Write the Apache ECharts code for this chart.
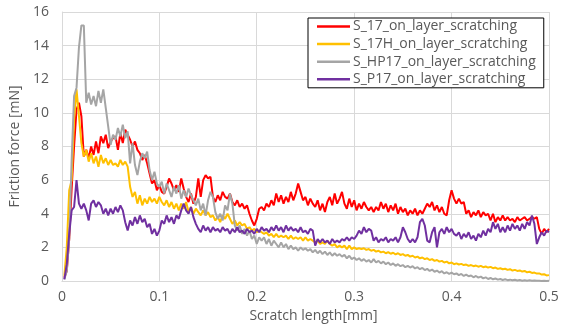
<!DOCTYPE html>
<html>
<head>
<meta charset="utf-8">
<script src="https://cdn.jsdelivr.net/npm/echarts@6/dist/echarts.min.js"></script>
<style>html,body{margin:0;padding:0;background:#fff;}#c{width:568px;height:329px;}</style>
</head>
<body>
<div id="c"></div>
<script>
const seriesNames = ['S_17_on_layer_scratching','S_17H_on_layer_scratching','S_HP17_on_layer_scratching','S_P17_on_layer_scratching'];
const xTicks = [0, 0.1, 0.2, 0.3, 0.4, 0.5];
const yTicks = [0, 2, 4, 6, 8, 10, 12, 14, 16];

const xs = [
0.0025,0.005,0.0075,0.01,0.0125,0.015,0.0175,0.02,0.0225,0.025,0.0275,0.03,0.0325,0.035,0.0375,0.04,0.0425,0.045,0.0475,0.05,0.0525,
0.055,0.0575,0.06,0.0625,0.065,0.0675,0.07,0.0725,0.075,0.0775,0.08,0.0825,0.085,0.0875,0.09,0.0925,0.095,0.0975,0.1,0.1025,
0.105,0.1075,0.11,0.1125,0.115,0.1175,0.12,0.1225,0.125,0.1275,0.13,0.1325,0.135,0.1375,0.14,0.1425,0.145,0.1475,0.15,0.1525,
0.155,0.1575,0.16,0.1625,0.165,0.1675,0.17,0.1725,0.175,0.1775,0.18,0.1825,0.185,0.1875,0.19,0.1925,0.195,0.1975,0.2,0.2025,
0.205,0.2075,0.21,0.2125,0.215,0.2175,0.22,0.2225,0.225,0.2275,0.23,0.2325,0.235,0.2375,0.24,0.2425,0.245,0.2475,0.25,0.2525,
0.255,0.2575,0.26,0.2625,0.265,0.2675,0.27,0.2725,0.275,0.2775,0.28,0.2825,0.285,0.2875,0.29,0.2925,0.295,0.2975,0.3,0.3025,
0.305,0.3075,0.31,0.3125,0.315,0.3175,0.32,0.3225,0.325,0.3275,0.33,0.3325,0.335,0.3375,0.34,0.3425,0.345,0.3475,0.35,0.3525,
0.355,0.3575,0.36,0.3625,0.365,0.3675,0.37,0.3725,0.375,0.3775,0.38,0.3825,0.385,0.3875,0.39,0.3925,0.395,0.3975,0.4,0.4025,
0.405,0.4075,0.41,0.4125,0.415,0.4175,0.42,0.4225,0.425,0.4275,0.43,0.4325,0.435,0.4375,0.44,0.4425,0.445,0.4475,0.45,0.4525,
0.455,0.4575,0.46,0.4625,0.465,0.4675,0.47,0.4725,0.475,0.4775,0.48,0.4825,0.485,0.4875,0.49,0.4925,0.495,0.4975,0.5
];

const s17 = [
0.2,0.6,2.5,5.5,8.0,10.2,10.6,9.8,7.4,7.8,7.3,8.0,7.5,8.3,7.6,8.6,8.2,8.7,7.9,8.3,8.5,
8.6,7.8,8.8,8.2,9.0,8.7,8.4,8.0,8.3,7.8,7.6,7.2,7.5,7.0,6.4,5.8,6.0,5.4,5.7,5.3,
5.2,5.6,6.1,5.8,5.4,5.7,5.3,6.1,5.5,5.0,4.7,5.2,4.6,5.0,6.1,5.0,6.0,6.3,6.1,6.2,
5.0,4.7,5.1,4.8,5.3,5.0,4.9,5.2,4.7,4.5,4.8,4.4,4.6,4.3,4.5,4.0,3.6,3.3,3.7,4.3,
4.4,4.2,4.6,4.4,4.8,4.5,5.2,4.7,5.1,4.6,5.0,4.7,5.3,4.8,5.2,5.8,5.3,4.8,5.0,4.5,
4.9,4.6,4.4,4.8,4.2,4.6,4.1,4.7,5.0,4.5,5.2,4.6,4.9,5.3,4.6,4.3,4.9,4.4,4.8,4.2,
4.6,4.3,4.7,4.4,4.2,4.4,4.1,4.4,4.2,4.7,4.3,4.6,4.1,4.5,4.2,4.6,4.0,4.4,4.1,4.3,
3.9,4.2,4.0,4.3,3.9,4.2,4.0,4.3,4.6,4.4,4.7,4.2,4.5,4.1,4.4,4.0,3.9,4.8,5.4,4.9,
4.6,4.9,4.6,4.7,4.0,4.2,3.8,4.1,3.9,4.2,3.8,4.1,3.9,4.0,3.6,4.0,3.5,3.8,3.6,3.9,
3.6,3.8,3.6,3.7,3.5,3.8,3.6,3.7,3.8,3.6,3.7,3.8,3.7,3.8,3.1,2.8,3.1,2.9,3.1
];

const s17H = [
0.3,2.0,5.4,6.0,9.6,11.4,9.8,8.2,7.4,7.8,7.1,7.6,7.0,7.4,6.8,7.5,7.0,7.3,6.9,7.2,6.9,
7.0,6.8,7.2,6.9,7.1,6.8,5.6,5.0,5.3,4.6,5.1,4.5,4.9,4.6,5.0,4.7,4.9,4.6,5.0,4.7,
4.5,4.8,4.4,4.7,4.3,4.6,4.2,4.6,4.3,4.7,4.1,4.4,4.0,4.3,4.1,3.9,4.2,3.9,4.1,3.8,
3.9,3.6,3.8,3.5,3.9,3.7,4.0,3.7,3.4,3.6,3.3,3.5,3.3,3.4,3.1,3.2,3.0,3.1,2.9,3.0,
2.9,2.8,2.9,2.7,2.8,2.6,2.8,2.6,2.7,2.6,2.7,2.5,2.7,2.5,2.6,2.5,2.6,2.4,2.6,2.4,
2.5,2.4,2.3,2.4,2.2,2.3,2.2,2.4,2.2,2.1,2.2,2.0,2.1,2.0,2.1,1.9,2.1,1.9,2.0,1.9,
1.95,1.9,1.95,1.85,1.9,1.8,1.85,1.75,1.8,1.7,1.75,1.65,1.72,1.62,1.68,1.58,1.65,1.55,1.6,1.5,
1.55,1.45,1.5,1.4,1.45,1.35,1.4,1.3,1.35,1.25,1.3,1.2,1.25,1.15,1.2,1.1,1.15,1.05,1.1,1.0,
1.05,0.98,1.02,0.95,0.98,0.9,0.95,0.88,0.92,0.85,0.9,0.82,0.86,0.8,0.84,0.76,0.8,0.72,0.76,0.7,
0.73,0.66,0.7,0.62,0.66,0.6,0.63,0.56,0.6,0.52,0.55,0.48,0.5,0.44,0.45,0.38,0.4,0.33,0.35
];

const sHP17 = [
0.1,0.6,2.5,7.2,11.0,11.5,13.9,15.2,15.2,10.6,11.2,10.5,11.0,10.4,11.3,10.6,11.4,10.3,9.2,8.1,8.7,
8.4,9.1,8.6,9.3,8.5,8.9,7.0,8.2,6.9,6.3,7.1,7.6,7.3,7.7,6.6,6.0,6.5,5.8,5.6,5.9,
5.2,5.8,5.4,5.0,5.6,5.2,5.7,4.9,5.4,5.0,5.5,5.1,4.8,4.5,4.9,4.2,4.6,3.9,4.8,5.3,
5.0,4.1,3.7,4.0,3.6,4.5,4.2,5.2,4.6,3.3,3.0,3.3,2.8,3.1,2.7,3.0,2.5,2.7,2.2,2.6,
2.4,2.6,2.2,2.5,2.1,2.4,2.2,2.0,2.3,2.0,2.2,1.9,2.1,1.9,2.0,1.8,2.0,1.85,1.95,1.8,
1.9,1.7,1.85,1.65,1.8,1.6,1.75,1.55,1.7,1.5,1.65,1.5,1.6,1.45,1.55,1.35,1.5,1.3,1.4,1.25,
1.35,1.2,1.3,1.15,1.25,1.1,1.3,1.1,1.2,1.05,1.15,1.0,1.1,0.95,1.05,0.9,1.0,0.88,0.95,0.82,
0.9,0.8,0.88,0.75,0.82,0.7,0.78,0.65,0.72,0.6,0.68,0.55,0.62,0.5,0.58,0.45,0.52,0.42,0.5,0.4,
0.45,0.35,0.42,0.3,0.38,0.28,0.33,0.22,0.3,0.2,0.26,0.16,0.22,0.12,0.18,0.1,0.15,0.08,0.12,0.06,
0.1,0.05,0.08,0.04,0.07,0.03,0.06,0.02,0.05,0.02,0.04,0.01,0.03,0.01,0.02,0.0,0.02,0.0,0.01
];

const sP17 = [
0.1,1.0,2.8,4.2,4.4,6.0,4.6,4.3,4.6,4.2,3.6,4.6,4.8,4.4,4.7,4.5,4.0,4.3,3.9,4.3,4.0,
4.4,4.1,4.5,4.2,3.5,3.0,3.6,3.3,3.8,3.4,3.9,3.5,3.7,3.2,3.4,2.8,3.1,2.7,3.0,3.6,
3.4,3.9,3.5,3.8,3.4,3.9,3.7,4.2,4.6,4.2,4.0,4.4,3.8,3.4,3.1,2.9,3.3,3.0,3.2,2.9,
3.2,3.0,3.1,2.9,3.2,3.0,3.1,2.8,3.1,2.9,3.2,2.9,3.0,2.8,3.1,2.9,3.0,2.8,3.1,2.9,
3.2,3.0,3.1,2.9,3.2,3.0,3.3,3.0,3.2,2.9,3.3,3.0,3.2,3.0,3.1,2.9,3.2,2.9,3.0,2.8,
3.1,3.0,2.1,2.5,2.3,2.5,2.3,2.4,2.2,2.5,2.3,2.4,2.3,2.5,2.4,2.6,2.4,2.6,2.5,2.7,
3.0,2.8,3.2,2.9,3.1,3.0,2.4,2.6,2.3,2.5,2.4,2.6,2.3,2.5,2.4,2.6,2.3,2.6,3.2,2.9,
2.5,2.3,2.5,2.3,2.6,3.5,3.7,3.3,2.4,2.3,2.9,3.2,2.0,2.9,3.1,2.8,3.2,2.9,3.1,2.8,
2.7,2.9,2.5,2.8,2.6,2.9,2.5,2.7,2.4,2.8,2.6,3.0,2.7,3.1,2.9,3.5,3.1,3.4,2.9,3.2,
2.9,3.3,3.0,3.4,3.1,3.3,3.0,3.4,3.1,3.5,3.3,3.9,3.4,2.2,2.6,2.9,2.7,3.0,2.9
];

const colors = ['#FF0000', '#FFC000', '#A5A5A5', '#7030A0'];
const values = [s17, s17H, sHP17, sP17];
const FONT = 'Open Sans';

const chart = echarts.init(document.getElementById('c'), null, {renderer: 'canvas'});
chart.setOption({
  animation: false,
  backgroundColor: '#ffffff',
  grid: {left: 57, right: 19, top: 12, bottom: 48, containLabel: false},
  legend: {
    data: seriesNames,
    orient: 'vertical',
    left: 308, top: 18,
    backgroundColor: '#ffffff',
    borderColor: '#000000', borderWidth: 1,
    padding: [1, 8, 1, 9],
    itemGap: 2.6,
    itemWidth: 33, itemHeight: 2.5,
    icon: 'rect',
    textStyle: {fontFamily: FONT, fontSize: 14, color: '#595959', lineHeight: 15, padding: [0,0,0,-2]}
  },
  xAxis: {
    type: 'value', min: xTicks[0], max: xTicks[xTicks.length-1], interval: 0.1,
    name: 'Scratch length[mm]', nameLocation: 'middle', nameGap: 24,
    nameTextStyle: {fontFamily: FONT, fontSize: 14, color: '#595959', padding: [0,0,0,16]},
    axisLine: {show: true, lineStyle: {color: '#D9D9D9', width: 1}},
    axisTick: {show: false},
    axisLabel: {fontFamily: FONT, fontSize: 14, color: '#595959', margin: 9},
    splitLine: {show: true, lineStyle: {color: '#D9D9D9', width: 1}}
  },
  yAxis: {
    type: 'value', min: yTicks[0], max: yTicks[yTicks.length-1], interval: 2,
    name: 'Friction force [mN]', nameLocation: 'middle', nameGap: 38,
    nameTextStyle: {fontFamily: FONT, fontSize: 14, color: '#595959'},
    axisLine: {show: true, lineStyle: {color: '#D9D9D9', width: 1}},
    axisTick: {show: false},
    axisLabel: {fontFamily: FONT, fontSize: 14, color: '#595959', margin: 13},
    splitLine: {show: true, lineStyle: {color: '#D9D9D9', width: 1}}
  },
  series: seriesNames.map((n, k) => ({
    name: n, type: 'line', showSymbol: false, symbol: 'none',
    color: colors[k],
    lineStyle: {color: colors[k], width: 2},
    data: xs.map((x, i) => [x, values[k][i]])
  }))
});
</script>
</body>
</html>
